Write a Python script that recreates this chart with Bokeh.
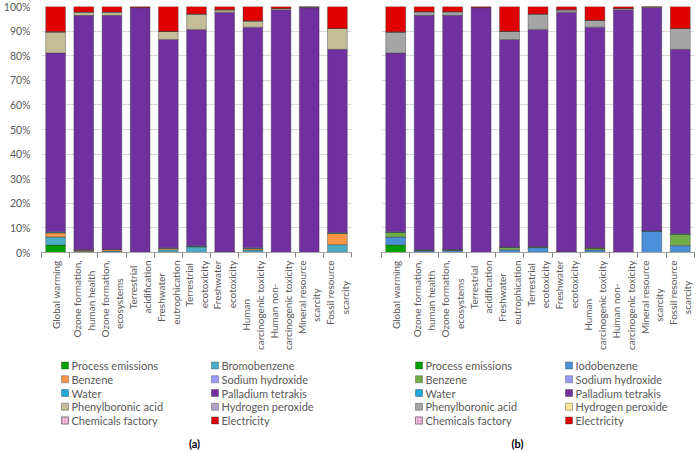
import math
from bokeh.plotting import figure
from bokeh.models import (ColumnDataSource, FixedTicker, PrintfTickFormatter, Range1d)
from bokeh.core.properties import value
from bokeh.layouts import row, column
from bokeh.embed import file_html
from bokeh.resources import INLINE

FONT = "Lato"
TXT = "#595959"

tick_labels = [
    "Global warming",
    "Ozone formation,\nhuman health",
    "Ozone formation,\necosystems",
    "Terrestrial\nacidification",
    "Freshwater\neutrophication",
    "Terrestrial\necotoxicity",
    "Freshwater\necotoxicity",
    "Human\ncarcinogenic toxicity",
    "Human non-\ncarcinogenic toxicity",
    "Mineral resource\nscarcity",
    "Fossil resource\nscarcity",
]

# ---- panel (a) ----
series_a = ["Process emissions", "Bromobenzene", "Benzene", "Sodium hydroxide", "Water",
            "Palladium tetrakis", "Phenylboronic acid", "Hydrogen peroxide",
            "Chemicals factory", "Electricity"]
colors_a = ["#00a000", "#4bacc6", "#f79646", "#9999ff", "#1fa8dc",
            "#7030a0", "#c4bd97", "#b3a2c7", "#f2c4e0", "#e00000"]
process_a = [3.0, 0.2, 0.2, 0.05, 0.1, 0.1, 0.1, 0.1, 0.05, 0.0, 0.1]
bromo_a = [3.3, 0.3, 0.4, 0.05, 1.0, 2.2, 0.2, 0.9, 0.05, 0.05, 3.1]
benzene_a = [1.7, 0.5, 0.6, 0.0, 0.6, 0.2, 0.0, 0.6, 0.0, 0.0, 4.5]
naoh_a = [0.1, 0.0, 0.0, 0.0, 0.0, 0.0, 0.0, 0.0, 0.0, 0.0, 0.1]
water_a = [0.3, 0.1, 0.1, 0.0, 0.2, 0.2, 0.0, 0.3, 0.0, 0.0, 0.3]
pd_a = [72.7, 95.3, 95.1, 99.4, 84.7, 88.0, 97.4, 89.7, 98.6, 99.5, 74.5]
phenyl_a = [8.5, 1.3, 1.3, 0.1, 3.3, 6.1, 1.0, 2.5, 0.5, 0.0, 8.5]
h2o2_a = [0.1, 0.1, 0.1, 0.0, 0.0, 0.1, 0.0, 0.1, 0.0, 0.2, 0.0]
chem_a = [0.1, 0.0, 0.0, 0.0, 0.0, 0.1, 0.0, 0.0, 0.0, 0.1, 0.0]
elec_a = [10.2, 2.2, 2.2, 0.4, 10.1, 3.0, 1.3, 5.8, 0.8, 0.15, 8.9]

# ---- panel (b) ----
series_b = ["Process emissions", "Iodobenzene", "Benzene", "Sodium hydroxide", "Water",
            "Palladium tetrakis", "Phenylboronic acid", "Hydrogen peroxide",
            "Chemicals factory", "Electricity"]
colors_b = ["#00a000", "#4a90d9", "#70ad47", "#9999ff", "#1fa8dc",
            "#7030a0", "#a5a5a5", "#ffe699", "#f2c4e0", "#e00000"]
process_b = [3.1, 0.1, 0.1, 0.05, 0.1, 0.1, 0.1, 0.1, 0.05, 0.0, 0.1]
iodo_b = [3.2, 0.6, 0.7, 0.05, 1.0, 1.9, 0.2, 0.9, 0.05, 8.8, 2.7]
benzene_b = [1.9, 0.3, 0.3, 0.0, 1.0, 0.3, 0.0, 0.8, 0.0, 0.0, 4.6]
naoh_b = [0.0, 0.0, 0.0, 0.0, 0.0, 0.0, 0.0, 0.0, 0.0, 0.0, 0.0]
water_b = [0.2, 0.1, 0.1, 0.0, 0.1, 0.1, 0.0, 0.1, 0.0, 0.0, 0.3]
pd_b = [72.7, 95.3, 95.2, 99.4, 84.4, 88.3, 97.4, 89.7, 98.6, 90.8, 74.9]
phenyl_b = [8.5, 1.5, 1.5, 0.1, 3.3, 6.1, 1.0, 2.8, 0.5, 0.0, 8.5]
h2o2_b = [0.1, 0.0, 0.0, 0.0, 0.0, 0.1, 0.0, 0.0, 0.0, 0.2, 0.0]
chem_b = [0.0, 0.0, 0.0, 0.0, 0.0, 0.1, 0.0, 0.0, 0.0, 0.1, 0.0]
elec_b = [10.3, 2.1, 2.1, 0.4, 10.1, 3.0, 1.3, 5.6, 0.8, 0.1, 8.9]

y_ticks = list(range(0, 101, 10))

LINE = dict(line_color="#404040", line_width=0.6, line_alpha=0.7)

# rough relative glyph widths (em) used only to centre the two lines of a label
_W = {"a": .50, "b": .56, "c": .46, "d": .56, "e": .53, "f": .32, "g": .50, "h": .56,
      "i": .24, "k": .50, "l": .24, "m": .84, "n": .56, "o": .56, "p": .56, "r": .37,
      "s": .43, "t": .35, "u": .56, "x": .50, "y": .50, "-": .35, ",": .22, " ": .19,
      "O": .75, "H": .74, "T": .56, "F": .52, "M": .90, "G": .71}
NBSP_W = 0.19


def centred(label):
    lines = label.split("\n")
    if len(lines) == 1:
        return label
    widths = [sum(_W.get(ch, .5) for ch in ln) for ln in lines]
    wmax = max(widths)
    out = []
    for ln, w in zip(lines, widths):
        pad = int(round((wmax - w) / 2 / NBSP_W))
        out.append(ln + "\u00a0" * pad)
    return "\n".join(out)


def style_hatch(glyph):
    glyph.hatch_pattern = "dot"
    glyph.hatch_color = "#c0609a"
    glyph.hatch_scale = 3


def make_chart(colors, values, width, border_left, show_y):
    n = len(tick_labels)
    centers = [i + 0.5 for i in range(n)]
    bounds = [float(i) for i in range(n + 1)]
    data = {"x": centers}
    keys = []
    for i, v in enumerate(values):
        k = "s%d" % i
        keys.append(k)
        data[k] = v
    src = ColumnDataSource(data)
    p = figure(width=width, height=353, x_range=Range1d(0, n), y_range=Range1d(0, 100),
               output_backend="svg", toolbar_location=None,
               min_border_left=border_left, min_border_right=2,
               min_border_top=6, min_border_bottom=100)
    rs = p.vbar_stack(keys, x="x", width=0.7, source=src, fill_color=colors, **LINE)
    style_hatch(rs[8].glyph)

    ax = p.xaxis[0]
    ax.ticker = FixedTicker(ticks=centers, minor_ticks=bounds)
    ax.major_label_overrides = {c: centred(lab) for c, lab in zip(centers, tick_labels)}
    ax.major_label_orientation = math.pi / 2
    ax.major_tick_line_color = None
    ax.major_tick_in = 0
    ax.major_tick_out = 5
    ax.minor_tick_line_color = "#7f7f7f"
    ax.minor_tick_in = 0
    ax.minor_tick_out = 5
    ax.axis_line_color = "#a6a6a6"
    ax.major_label_standoff = 3
    ax.major_label_text_font = FONT
    ax.major_label_text_font_size = "10px"
    ax.major_label_text_color = TXT

    ya = p.yaxis[0]
    ya.ticker = FixedTicker(ticks=y_ticks)
    ya.formatter = PrintfTickFormatter(format="%d%%")
    ya.axis_line_color = None
    ya.major_tick_line_color = None
    ya.minor_tick_line_color = None
    ya.major_tick_out = 0
    ya.major_label_standoff = 11
    ya.major_label_text_font = FONT
    ya.major_label_text_font_size = "10.5px"
    ya.major_label_text_color = TXT
    if not show_y:
        ya.visible = False

    p.xgrid.visible = False
    p.ygrid.grid_line_color = "#d9d9d9"
    p.ygrid.ticker = FixedTicker(ticks=y_ticks)
    p.outline_line_color = None
    return p


LEG_H = 98
ROW0, ROW_STEP, COL_STEP, SW = 12, 13.75, 150, 7


def make_legend(series, colors, tag, width, col_x, tag_x):
    # pixel-unit canvas: x to the right, y downward
    lf = figure(width=width, height=LEG_H, x_range=Range1d(0, width),
                y_range=Range1d(LEG_H, 0), x_axis_type=None, y_axis_type=None,
                output_backend="svg", toolbar_location=None, min_border=0)
    lf.outline_line_color = None
    lf.xgrid.visible = False
    lf.ygrid.visible = False
    left = [col_x + COL_STEP * (i % 2) for i in range(len(series))]
    ys = [ROW0 + ROW_STEP * (i // 2) for i in range(len(series))]
    src = ColumnDataSource(dict(sx=[x + SW / 2 for x in left], tx=[x + SW + 3 for x in left],
                                y=ys, c=colors, t=series))
    lf.rect(x="sx", y="y", width=SW, height=SW, fill_color="c", source=src, **LINE)
    hsrc = ColumnDataSource(dict(sx=[left[8] + SW / 2], y=[ys[8]]))
    hr = lf.rect(x="sx", y="y", width=SW, height=SW, fill_color=colors[8], source=hsrc, **LINE)
    style_hatch(hr.glyph)
    lf.text(x="tx", y="y", text="t", source=src, text_font=value(FONT),
            text_font_size="11px", text_color=TXT, text_baseline="middle", text_align="left")
    lf.text(x=[tag_x], y=[LEG_H - 8], text=[tag], text_font=value(FONT),
            text_font_size="11px", text_font_style="bold", text_color="black",
            text_baseline="middle", text_align="center")
    return lf


vals_a = [process_a, bromo_a, benzene_a, naoh_a, water_a, pd_a, phenyl_a, h2o2_a, chem_a, elec_a]
vals_b = [process_b, iodo_b, benzene_b, naoh_b, water_b, pd_b, phenyl_b, h2o2_b, chem_b, elec_b]

pa = make_chart(colors_a, vals_a, 353, 39, True)
pb = make_chart(colors_b, vals_b, 343, 28, False)
la = make_legend(series_a, colors_a, "(a)", 353, 61, 194)
lb = make_legend(series_b, colors_b, "(b)", 343, 62, 164)

layout = column(row(pa, pb), row(la, lb))
open("out.html", "w").write(file_html(layout, INLINE))
